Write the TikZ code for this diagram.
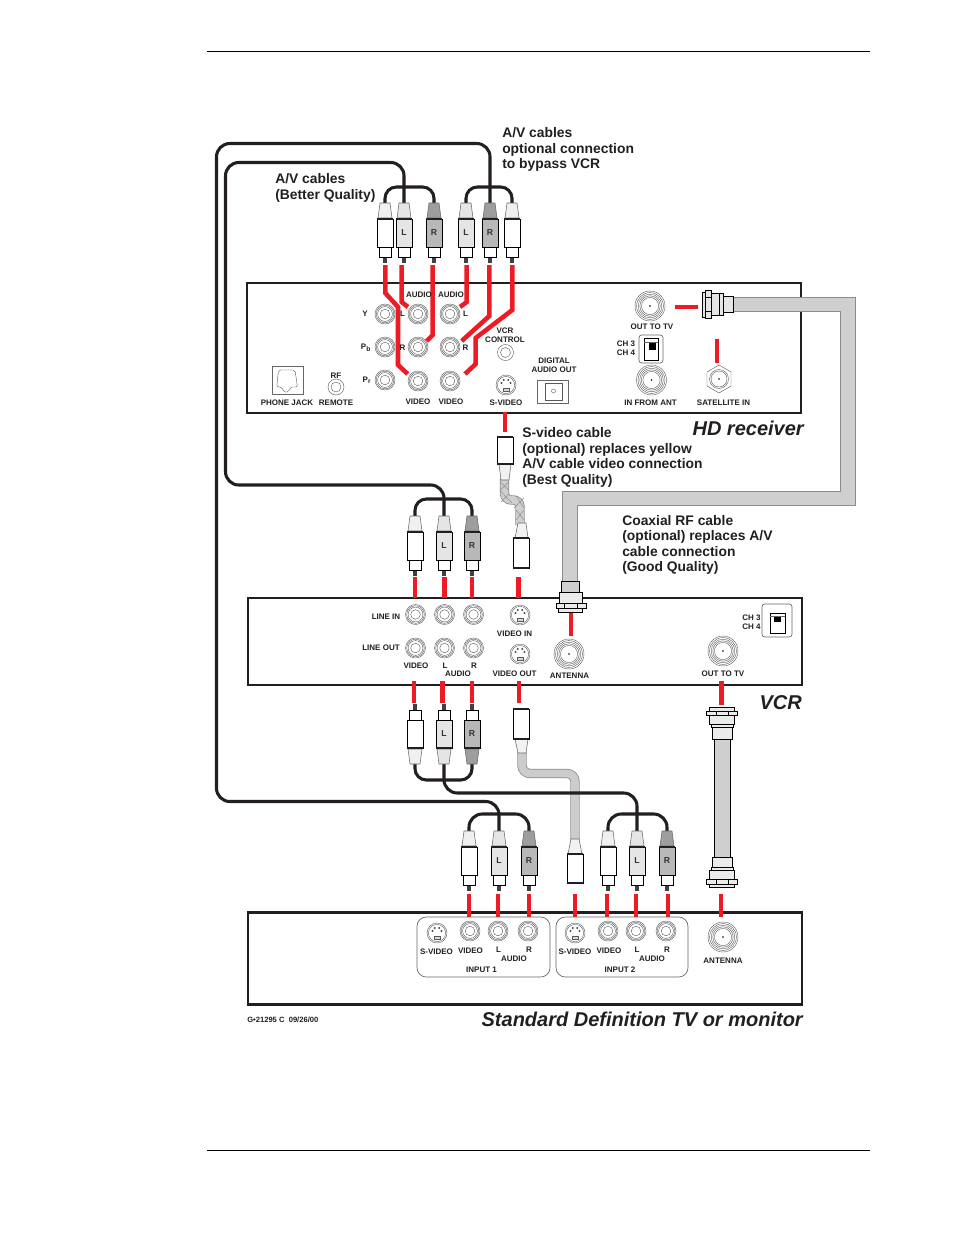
\documentclass[tikz,border=0pt]{standalone}
\usepackage{fontspec}
\setmainfont{Liberation Sans}
\newcounter{lbl}
\definecolor{redw}{HTML}{ED1C24}
\definecolor{blk}{HTML}{231F20}
\definecolor{coaxfill}{HTML}{CFCFCF}
\definecolor{coaxedge}{HTML}{8C8C8C}
\tikzset{
  devicebox/.style={draw=blk,line width=2pt,fill=white},
  redline/.style={draw=redw,line width=3.4pt},
  blackcable/.style={draw=blk,line width=2.3pt,rounded corners=8.5},
  part/.style={draw=black,line width=.7pt,fill=white},
  ring/.style={draw=black!65,line width=.3pt},
  small/.style={font=\bfseries\fontsize{6}{7}\selectfont,text=blk,inner sep=0pt,align=center},
  caption/.style={font=\bfseries\fontsize{10.4}{11.6}\selectfont,text=blk,inner sep=0pt,align=left,anchor=north west},
  title/.style={font=\bfseries\itshape\fontsize{15}{15}\selectfont,text=blk,inner sep=0pt,anchor=base east},
}
\newcommand{\lab}[3]{\stepcounter{lbl}\node[small] (t\thelbl) at (#1,#2) {#3};}
% RCA jack
\newcommand{\rcajack}[2]{\foreach \r in {10,8.8,7.4,4.8}{\draw[ring] (#1,#2) circle (\r);}}
% antenna jack
\newcommand{\antjack}[2]{\foreach \r in {15,13.4,11.8,10.2,8.6}{\draw[ring] (#1,#2) circle (\r);}\fill[black] (#1,#2) circle (.8);}
% s-video jack
\newcommand{\svid}[2]{\begin{scope}[shift={(#1,#2)}]
 \draw[ring] (0,0) circle (10); \draw[ring] (0,0) circle (8.6);
 \fill[black!70] (-4.5,-2) circle (1.1) (4.5,-2) circle (1.1) (-2.2,-5) circle (1.1) (2.2,-5) circle (1.1);
 \draw[ring,fill=black!15] (-3,3) rectangle (3,6);
 \end{scope}}
% RCA plug: origin at cable end of the cap, dir 1 = tip points down
\newcommand{\plug}[6]{\begin{scope}[shift={(#1,#2)},yscale=#3]
 \draw[draw=black!60,line width=.4pt,fill=#5] (-5,0) -- (5,0) -- (7,15) -- (-7,15) -- cycle;
 \fill[black!75] (-2,54) rectangle (2,60);
 \draw[part] (-6,44) rectangle (6,54);
 \draw[part,fill=#4] (-8,16) rectangle (8,44);
 \draw[blk,line width=1.2pt] (-8,16) -- (8,16);
 \end{scope}
 \stepcounter{lbl}\node[small,font=\bfseries\fontsize{6.5}{7}\selectfont,text=black!80] (t\thelbl) at (#1,#2+#3*30) {#6};}
% channel switch
\newcommand{\chsw}[8]{\draw[draw=black!60,line width=.5pt,fill=white,rounded corners=2] (#1,#2) rectangle (#3,#4);
 \draw[black,line width=.5pt] (#5,#6) rectangle (#7,#8);}
\begin{document}
\begin{tikzpicture}[x=.75pt,y=-.75pt]
\useasboundingbox (0,0) rectangle (954,1235);
\fill[white] (0,0) rectangle (954,1235);
% page rules
\coordinate (ruleAl) at (207,51.5); \coordinate (ruleAr) at (870,51.5);
\coordinate (ruleBl) at (207,1150.5); \coordinate (ruleBr) at (870,1150.5);
\draw[black,line width=.7pt] (ruleAl) -- (ruleAr);
\draw[black,line width=.7pt] (ruleBl) -- (ruleBr);

% device boxes
\draw[devicebox] (247,283) rectangle (801,413);
\draw[devicebox] (248,598) rectangle (802,685);
\draw[devicebox] (248,912.5) rectangle (802,1004.5);

% coax RF band
\draw[draw=coaxedge,line width=11.6pt,line join=miter] (733,304.5) -- (848,304.5) -- (848,498.5) -- (570,498.5) -- (570,592);
\draw[draw=coaxfill,line width=10.4pt,line join=miter] (733,304.5) -- (848,304.5) -- (848,498.5) -- (570,498.5) -- (570,594);

% s-video cable, upper
\draw[draw=coaxedge,line width=7pt,rounded corners=5] (504.5,478) -- (504.5,500) -- (520,500) -- (520,525);
\draw[draw=coaxfill,line width=5.8pt,rounded corners=5] (504.5,478) -- (504.5,500) -- (520,500) -- (520,525);
\foreach \a/\b/\c/\d in {500.5/482/508.5/490, 508.5/482/500.5/490, 500.5/491/512/503, 508.5/494/501/502, 516/496/524/508, 524/498/514/508, 516/510/524/520, 524/510/516/520}{
  \draw[draw=black!45,line width=.35pt] (\a,\b) -- (\c,\d);}
% s-video cable, lower
\draw[draw=coaxedge,line width=7pt,rounded corners=6] (522,752) -- (522,773.5) -- (575,773.5) -- (575,840);
\draw[draw=black!20,line width=5.8pt,rounded corners=6] (522,752) -- (522,773.5) -- (575,773.5) -- (575,840);

% black cables
\draw[blackcable] (385,204) -- (385,187) -- (434,187) -- (434,204);
\draw[blackcable] (466,204) -- (466,187) -- (512,187) -- (512,204);
\draw[blackcable,rounded corners=10] (404,204) -- (404,162.5) -- (225.5,162.5) -- (225.5,485) -- (444,485) -- (444,517);
\draw[blackcable,rounded corners=10] (490,204) -- (490,143.5) -- (216.5,143.5) -- (216.5,801.5) -- (499,801.5) -- (499,832);
\draw[blackcable] (415,517) -- (415,499) -- (472,499) -- (472,517);
\draw[blackcable] (415,763) -- (415,780) -- (472,780) -- (472,763);
\draw[blackcable,rounded corners=10] (444,763) -- (444,793) -- (637,793) -- (637,832);
\draw[blackcable,rounded corners=10] (469,832) -- (469,814) -- (529,814) -- (529,832);
\draw[blackcable,rounded corners=10] (608,832) -- (608,814) -- (667,814) -- (667,832);

% RCA plugs
\plug{385}{203}{1}{white}{black!6}{}
\plug{404}{203}{1}{black!10}{black!10}{L}
\plug{434}{203}{1}{black!28}{black!38}{R}
\plug{466}{203}{1}{black!10}{black!10}{L}
\plug{490}{203}{1}{black!28}{black!38}{R}
\plug{512}{203}{1}{white}{black!6}{}
\plug{415}{516}{1}{white}{black!6}{}
\plug{444}{516}{1}{black!10}{black!10}{L}
\plug{472}{516}{1}{black!28}{black!38}{R}
\plug{415}{764}{-1}{white}{black!6}{}
\plug{444}{764}{-1}{black!10}{black!10}{L}
\plug{472}{764}{-1}{black!28}{black!38}{R}
\plug{469}{831}{1}{white}{black!6}{}
\plug{499}{831}{1}{black!10}{black!10}{L}
\plug{529}{831}{1}{black!28}{black!38}{R}
\plug{608}{831}{1}{white}{black!6}{}
\plug{637}{831}{1}{black!10}{black!10}{L}
\plug{667}{831}{1}{black!28}{black!38}{R}

% s-video plugs
\draw[draw=black!60,line width=.4pt,fill=black!5] (499,464) -- (511,464) -- (509,480) -- (501,480) -- cycle;
\draw[part] (497,437) rectangle (513,464);
\draw[blk,line width=1.2pt] (497,437) -- (513,437) (497,464) -- (513,464);
\draw[draw=black!60,line width=.4pt,fill=black!5] (518,523) -- (526,523) -- (528,538) -- (515,538) -- cycle;
\draw[part] (513,538) rectangle (529,568);
\draw[blk,line width=1.2pt] (513,538) -- (529,538) (513,568) -- (529,568);
\draw[draw=black!60,line width=.4pt,fill=black!5] (515,739) -- (528,739) -- (526,753) -- (518,753) -- cycle;
\draw[part] (513,709) rectangle (529,739);
\draw[blk,line width=1.2pt] (513,709) -- (529,709) (513,739) -- (529,739);
\draw[draw=black!60,line width=.4pt,fill=black!5] (571,839) -- (579,839) -- (582,854) -- (568,854) -- cycle;
\draw[part] (567,854) rectangle (583,883);
\draw[blk,line width=1.2pt] (567,854) -- (583,854) (567,883) -- (583,883);

% coax connector, HD receiver
\draw[part,fill=black!10] (723,296) rectangle (733.5,312.5);
\draw[part,fill=black!10] (711,293) rectangle (723,315);
\draw[part] (719,293) -- (719,315);
\draw[part,fill=black!10] (705,290) rectangle (711,318);
\draw[part,fill=black!10] (702,292) rectangle (705,317);
\draw[black,line width=.5pt] (705,297) -- (711,297) (705,311) -- (711,311);
% coax connector, VCR antenna
\draw[part,fill=coaxfill] (561.5,581) rectangle (579.5,593);
\draw[part,fill=black!8] (559,592) rectangle (582,603);
\draw[part,fill=black!8] (556,603) rectangle (586,608);
\draw[black,line width=.5pt] (564,603) -- (564,608) (577,603) -- (577,608);
\draw[part,fill=black!8] (558,608) rectangle (582,612);
% RF link VCR to TV
\draw[draw=black,line width=.6pt,fill=coaxfill] (714,739) rectangle (730,857);
\draw[part,fill=black!8] (709,707) rectangle (734,711);
\draw[part,fill=black!8] (706,711) rectangle (737,715);
\draw[black,line width=.5pt] (716,711) -- (716,715) (728,711) -- (728,715);
\draw[part,fill=black!8] (709,715) rectangle (734,724);
\draw[part,fill=black!8] (711,724) rectangle (733,727);
\draw[part,fill=black!8] (712,727) rectangle (732,739);
\draw[part,fill=black!8] (712,857) rectangle (732,867);
\draw[part,fill=black!8] (711,867) rectangle (733,870);
\draw[part,fill=black!8] (709,870) rectangle (734,879);
\draw[part,fill=black!8] (706,879) rectangle (737,884);
\draw[black,line width=.5pt] (716,879) -- (716,884) (728,879) -- (728,884);
\draw[part,fill=black!8] (709,884) rectangle (734,887);

% HD receiver panel
\rcajack{385}{314}\rcajack{385}{347}\rcajack{385}{380}
\rcajack{418}{314}\rcajack{418}{347}\rcajack{418}{381}
\rcajack{450}{314}\rcajack{450}{347}\rcajack{450}{381}
\draw[ring] (505.5,352.5) circle (8); \draw[ring] (505.5,352.5) circle (5);
\draw[ring] (336,387) circle (8); \draw[ring] (336,387) circle (5);
\svid{506}{385}
\draw[draw=black!60,line width=.5pt,fill=white] (537,380) rectangle (568,403);
\draw[ring] (545,383) rectangle (562,400);
\draw[ring] (553.5,391) circle (2);
\draw[draw=black!60,line width=.5pt] (272,366) rectangle (303,394);
\draw[ring,rounded corners=1.5] (276.7,387) -- (278.5,370) -- (295,370) -- (297.5,387) -- (290,387) -- (289,392) -- (283.5,392) -- (282,387) -- cycle;
\antjack{650}{306}\antjack{651.5}{380}
\draw[ring] (719,372) ++(0,-7) -- ++(12,7) -- ++(0,14) -- ++(-12,7) -- ++(-12,-7) -- ++(0,-14) -- cycle;
\draw[ring] (719,379) circle (9.5); \draw[ring] (719,379) circle (8); \fill (719,379) circle (.8);
\chsw{639}{335}{663}{363}{644}{338}{658}{360}
\fill[black] (649,343) rectangle (656,350);
\draw[black!60,line width=.4pt] (644,342) -- (658,342);

% VCR panel
\rcajack{415.5}{614.5}\rcajack{444.5}{614.5}\rcajack{473.5}{614.5}
\rcajack{415.5}{648}\rcajack{444.5}{648}\rcajack{473.5}{648}
\svid{520}{615}\svid{520}{654}
\antjack{569}{654}\antjack{723}{651}
\chsw{762}{604}{792}{637}{770}{613}{785}{633}
\fill[black] (774,616) rectangle (781,622);
\draw[black!60,line width=.4pt] (770,616) -- (785,616);

% TV panel
\draw[draw=black!60,line width=.5pt,rounded corners=7] (417,917) rectangle (550,977);
\draw[draw=black!60,line width=.5pt,rounded corners=7] (556,917) rectangle (688,977);
\svid{437}{933}\rcajack{470}{931}\rcajack{498}{931}\rcajack{528}{931}
\svid{575}{933}\rcajack{608}{931}\rcajack{636}{931}\rcajack{666}{931}
\antjack{723}{937}

% red links
\foreach \p in {
 {(385.3,265) -- (385.3,293) -- (398,307) -- (398,365) -- (407.7,374)},
 {(401.7,265) -- (401.7,302) -- (408,307)},
 {(432.7,265) -- (432.7,335) -- (426.7,341)},
 {(466.7,265) -- (466.7,302) -- (460,307)},
 {(489.3,265) -- (489.3,316) -- (461.7,341)},
 {(512.3,265) -- (512.3,310) -- (475.7,338) -- (475.7,364) -- (465,374)},
 {(505,412) -- (505,432)},{(675,307) -- (698,307)},{(717,339) -- (717,363)},
 {(415,577) -- (415,598)},{(444.5,577) -- (444.5,598)},{(472,577) -- (472,598)},{(518.5,577) -- (518.5,598)},{(571,613) -- (571,636)},
 {(414,681) -- (414,703)},{(442.5,681) -- (442.5,703)},{(472,681) -- (472,703)},{(519,681) -- (519,703)},{(721.5,681) -- (721.5,705)},
 {(469,894) -- (469,917)},{(498,894) -- (498,917)},{(529,894) -- (529,917)},{(575,894) -- (575,917)},{(607,894) -- (607,917)},{(636,894) -- (636,917)},{(668,894) -- (668,917)},{(721,894) -- (721,917)}}
 {\draw[redline] \p;}

% HD labels
\lab{419}{295}{AUDIO}\lab{451}{295}{AUDIO}
\lab{365}{313.5}{Y}\lab{402.5}{313.5}{L}\lab{465.5}{313.5}{L}
\lab{366}{348}{P\textsubscript{b}}\lab{402.5}{348}{R}\lab{465.5}{348}{R}
\lab{367}{380.5}{P\textsubscript{r}}
\lab{418}{401.5}{VIDEO}\lab{451}{401.5}{VIDEO}
\lab{505}{335}{VCR\\[-.5pt]CONTROL}
\lab{554}{365.5}{DIGITAL\\[-.5pt]AUDIO OUT}
\lab{287}{402.5}{PHONE JACK}\lab{336}{402.5}{REMOTE}\lab{336}{375.5}{RF}
\lab{506}{402.5}{S-VIDEO}
\lab{652}{326.5}{OUT TO TV}\lab{650.5}{402.5}{IN FROM ANT}\lab{723.5}{402.5}{SATELLITE IN}
\lab{626}{348.5}{CH 3\\[-.5pt]CH 4}
% VCR labels
\lab{386}{617}{LINE IN}\lab{381}{648}{LINE OUT}
\lab{416}{666}{VIDEO}\lab{445}{666}{L}\lab{474}{666}{R}\lab{458}{674}{AUDIO}
\lab{514.5}{634}{VIDEO IN}\lab{514.5}{674}{VIDEO OUT}
\lab{569.5}{675.5}{ANTENNA}\lab{723}{674}{OUT TO TV}
\lab{751.5}{622}{CH 3\\[-.5pt]CH 4}
% TV labels
\lab{436.5}{952}{S-VIDEO}\lab{470.5}{951}{VIDEO}\lab{498.5}{949.5}{L}\lab{529}{949.5}{R}\lab{514}{959}{AUDIO}\lab{481.5}{969.5}{INPUT 1}
\lab{575}{952}{S-VIDEO}\lab{609}{951}{VIDEO}\lab{637}{949.5}{L}\lab{667}{949.5}{R}\lab{652}{959}{AUDIO}\lab{620}{969.5}{INPUT 2}
\lab{723}{961}{ANTENNA}
\node[small,anchor=west,font=\bfseries\fontsize{5.7}{6}\selectfont] (code) at (247,1019.5) {G•21295 C\ \ 09/26/00};

% captions
\node[caption] (capA) at (502,127.5) {A/V cables\\optional connection\\to bypass VCR};
\node[caption] (capB) at (275,173.5) {A/V cables\\(Better Quality)};
\node[caption] (capC) at (522,427.5) {S-video cable\\(optional) replaces yellow\\A/V cable video connection\\(Best Quality)};
\node[caption] (capD) at (622,515) {Coaxial RF cable\\(optional) replaces A/V\\cable connection\\(Good Quality)};
% titles
\node[title] (hd) at (804,435) {HD receiver};
\node[title] (vcr) at (802,709) {VCR};
\node[title] (tv) at (803,1026) {Standard Definition TV or monitor};
\end{tikzpicture}
\end{document}
